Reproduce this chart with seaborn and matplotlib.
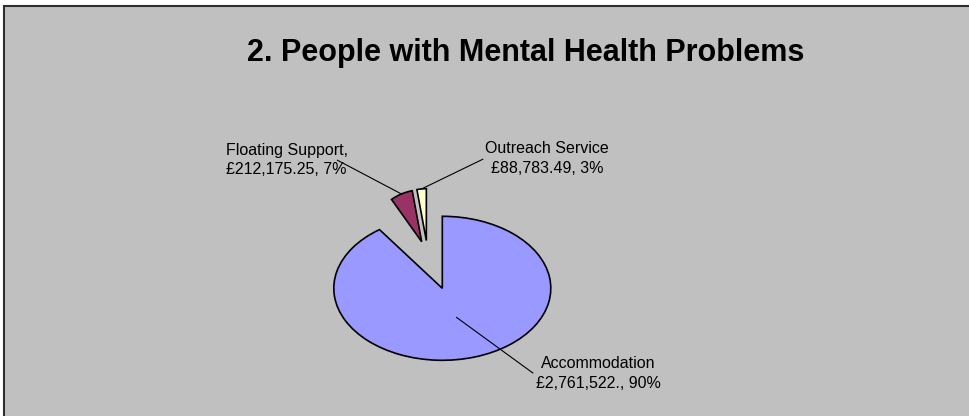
import matplotlib
matplotlib.use("Agg")
import matplotlib.pyplot as plt
import seaborn as sns
import numpy as np
from matplotlib.patches import Rectangle
from matplotlib.transforms import Affine2D

# ---- data ----
categories = ["Accommodation", "Floating Support", "Outreach Service"]
label_names = ["Accommodation", "Floating Support,", "Outreach Service"]
amounts = [2761522.0, 212175.25, 88783.49]
amount_labels = ["£2,761,522.", "£212,175.25", "£88,783.49"]
percent_labels = ["90%", "7%", "3%"]
slice_colors = ["#9999FF", "#993366", "#FFFFCC"]
title = "2. People with Mental Health Problems"

sns.set_theme(style="white")
plt.rcParams["font.family"] = ["Liberation Sans", "DejaVu Sans"]

W, H, DPI = 970, 416, 100
fig = plt.figure(figsize=(W / DPI, H / DPI), dpi=DPI, facecolor="white")

# grey chart area with its dark outline
fig.add_artist(Rectangle((4.5 / W, -20 / H), 1.2, (H - 5.5 + 20) / H,
                         transform=fig.transFigure, facecolor="#C0C0C0",
                         edgecolor="#2e2e2e", linewidth=1.5, zorder=-10))

# pie placement (pixels from the top-left corner) and its flattened radii
CX, CY = 442.3, 288.3
RX, RY = 108.5, 72.0


def px(x, y):
    """Pixel position (from top-left) -> pie data coordinates."""
    return ((x - CX) / RX, (CY - y) / RY)


ax = fig.add_axes([0, 0, 1, 1])
wedges, _ = ax.pie(amounts, colors=slice_colors, startangle=90,
                   counterclock=False, explode=[0, 0.3, 0.3],
                   wedgeprops=dict(edgecolor="black", linewidth=1.2))
ax.set_aspect("auto")
ax.set_xlim(-CX / RX, (W - CX) / RX)
ax.set_ylim(-(H - CY) / RY, CY / RY)
ax.set_axis_off()

# the two small slices are pulled away as a group and seen smaller (far side)
detach = Affine2D().scale(0.48, 0.72).translate(-0.134, 0.448)
for w in wedges[1:]:
    w.set_transform(detach + ax.transData)


def slice_point(w, r_frac, tf=None):
    mid = np.deg2rad((w.theta1 + w.theta2) / 2)
    cx, cy = w.center
    p = np.array([cx + w.r * r_frac * np.cos(mid), cy + w.r * r_frac * np.sin(mid)])
    return tf.transform(p) if tf is not None else p


# labels: centre of text block and where the leader line meets it (pixels)
label_pos = [(598.4, 373.5), (286.5, 160.0), (547.0, 158.5)]
leader_text_end = [(533.3, 373.3), (337.0, 160.0), (483.3, 159.0)]
leader_slice_end = [slice_point(wedges[0], 0.42),
                    slice_point(wedges[1], 1.0, detach),
                    slice_point(wedges[2], 1.0, detach)]

for i in range(len(categories)):
    text = f"{label_names[i]}\n{amount_labels[i]}, {percent_labels[i]}"
    lx, ly = label_pos[i]
    fig.text(lx / W, 1 - ly / H, text, ha="center", va="center",
             fontsize=11.5, color="black", linespacing=1.38)
    tx, ty = px(*leader_text_end[i])
    sx, sy = leader_slice_end[i]
    ax.plot([sx, tx], [sy, ty], color="black", linewidth=0.8,
            solid_capstyle="butt", zorder=3)

fig.text(526 / W, 1 - 53 / H, title, ha="center", va="center",
         fontsize=22, fontweight="bold", color="black")

fig.savefig("out.png", dpi=DPI, facecolor=fig.get_facecolor())
